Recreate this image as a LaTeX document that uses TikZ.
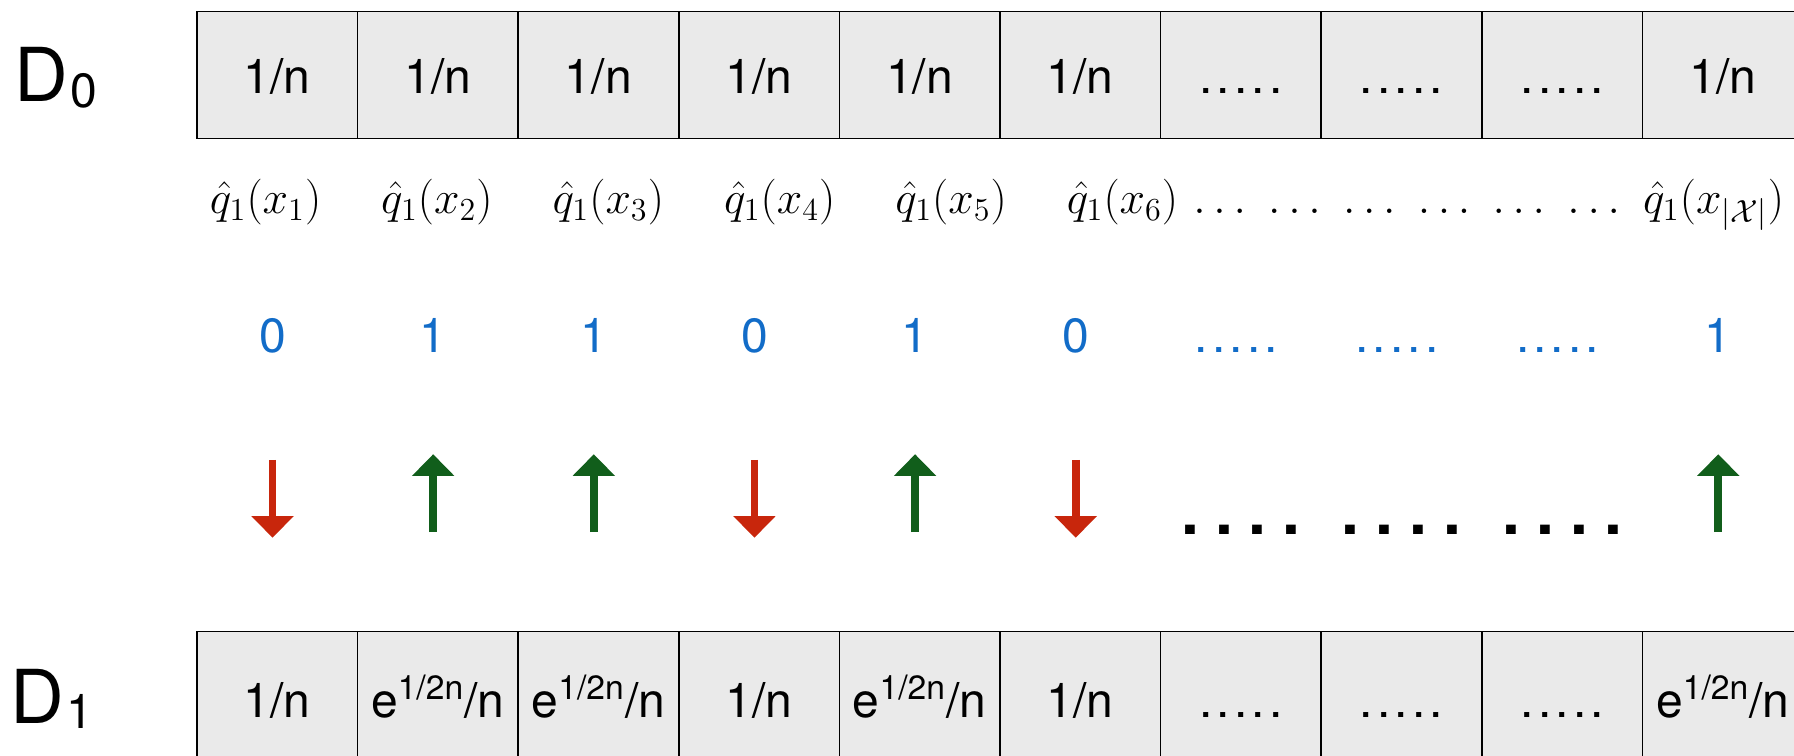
\RequirePackage{fix-cm}
\documentclass[tikz,border=0pt]{standalone}
\usepackage[no-math]{fontspec}
\setmainfont{TeX Gyre Heros}
\usetikzlibrary{arrows.meta}
\definecolor{cellgray}{RGB}{234,234,234}
\definecolor{numblue}{RGB}{18,108,200}
\definecolor{arred}{RGB}{200,38,12}
\definecolor{argreen}{RGB}{17,94,27}
\newcommand\oneN{1/n}
\newcommand\eN{e\textsuperscript{1/2n}/n}
\newcommand\fivedots[1]{.\kern#1.\kern#1.\kern#1.\kern#1.}
\newcommand\celldots{\fivedots{1.8pt}}
\newcommand\bigdots{{\bfseries .\kern7pt.\kern7pt.\kern7pt.}}
\newcommand\subdigit[1]{{\fontsize{21}{22}\selectfont\kern1pt\raisebox{-2.5pt}{#1}}}
\tikzset{
  cell/.style={draw=black, line width=0.7pt, fill=cellgray, minimum width=70.2pt,
    minimum height=55.5pt, inner sep=0pt, outer sep=0pt},
  celltext/.style={anchor=base, inner sep=0pt, font=\fontsize{21}{24}\selectfont},
  rowlabel/.style={anchor=base west, inner sep=0pt, font=\fontsize{32.5}{36}\selectfont},
  qlabel/.style={anchor=base west, inner sep=0pt, font=\fontsize{20}{24}\selectfont},
  bluenum/.style={anchor=base, inner sep=0pt, text=numblue, font=\fontsize{21}{24}\selectfont},
  bdots/.style={anchor=base, inner sep=0pt, font=\fontsize{28}{30}\selectfont},
  downarrow/.style={draw=arred, line width=3.35pt, -{Triangle[width=18pt,length=9.5pt]}},
  uparrow/.style={draw=argreen, line width=3.35pt, -{Triangle[width=18pt,length=9.5pt]}},
}
\begin{document}
\begin{tikzpicture}[x=0.5pt,y=-0.5pt]
\useasboundingbox (0,0) rectangle (1568,660);
\clip (0,0) rectangle (1568,660);
% row labels
\node[rowlabel] (D0) at (12,89) {D\subdigit{0}};
\node[rowlabel] (D1) at (9,632) {D\subdigit{1}};
% top cells
\foreach \i/\t in {1/\oneN,2/\oneN,3/\oneN,4/\oneN,5/\oneN,6/\oneN,7/\celldots,8/\celldots,9/\celldots,10/\oneN}{
  \node[cell] (t\i) at ({242.2+140.4*(\i-1)},65.5) {};
  \node[celltext] (tt\i) at ({242.2+140.4*(\i-1)},82) {\t};
}
% bottom cells
\foreach \i/\t in {1/\oneN,2/\eN,3/\eN,4/\oneN,5/\eN,6/\oneN,7/\celldots,8/\celldots,9/\celldots,10/\eN}{
  \node[cell] (b\i) at ({242.2+140.4*(\i-1)},607.5) {};
  \node[celltext] (bt\i) at ({242.2+140.4*(\i-1)},627) {\t};
}
% q labels
\foreach \i in {1,...,5}{
  \node[qlabel] (q\i) at ({183+149.8*(\i-1)},187) {$\hat{q}_1(x_{\i})$};
}
\node[qlabel] (q6) at (932,187)
  {\makebox[313.5pt][s]{$\hat{q}_1(x_6)\,\ldots$\hfill$\ldots$\hfill$\ldots$\hfill$\ldots$\hfill$\ldots$\hfill$\ldots$\hfill$\hat{q}_1(x_{|\mathcal{X}|})$}};
% blue values
\foreach \i/\t in {1/0,2/1,3/1,4/0,5/1,6/0,7/\celldots,8/\celldots,9/\celldots,10/1}{
  \node[bluenum] (v\i) at ({238.2+140.4*(\i-1)},308) {\t};
}
% arrows
\foreach \i in {1,4,6}{
  \coordinate (as\i) at ({238.2+140.4*(\i-1)},402);
  \coordinate (ae\i) at ({238.2+140.4*(\i-1)},470);
}
\foreach \i in {2,3,5,10}{
  \coordinate (us\i) at ({238.2+140.4*(\i-1)},465);
  \coordinate (ue\i) at ({238.2+140.4*(\i-1)},397);
}
\draw[downarrow] (as1) -- (ae1);
\draw[downarrow] (as4) -- (ae4);
\draw[downarrow] (as6) -- (ae6);
\draw[uparrow] (us2) -- (ue2);
\draw[uparrow] (us3) -- (ue3);
\draw[uparrow] (us5) -- (ue5);
\draw[uparrow] (us10) -- (ue10);
% black dots
\foreach \i in {7,8,9}{
  \node[bdots] (k\i) at ({242.2+140.4*(\i-1)},467) {\bigdots};
}
\end{tikzpicture}
\end{document}
